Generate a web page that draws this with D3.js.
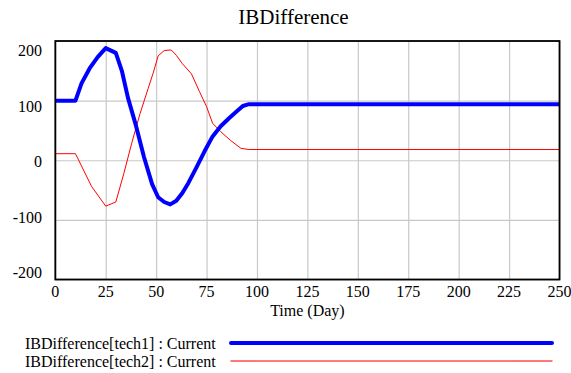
<!DOCTYPE html>
<html>
<head>
<meta charset="utf-8">
<script src="https://cdn.jsdelivr.net/npm/d3@7"></script>
<style>
  body { margin: 0; background: #fff; }
</style>
</head>
<body>
<svg id="chart" width="571" height="373"></svg>
<script>
// data
const tech1Times  = [0, 10, 13, 17, 21, 25, 30, 33, 36, 40, 44, 48, 51, 54, 57, 60, 63, 66, 70, 74, 78, 82, 86, 90, 93, 96, 250];
const tech1Values = [100, 100, 129, 154, 173, 188, 180, 150, 105, 58, 5, -40, -62, -70, -74, -68, -55, -38, -12, 15, 40, 57, 70, 82, 91, 94, 94];

const tech2Times  = [0, 10, 18, 25, 30, 34, 38, 42, 46, 48.5, 51, 54, 57.5, 60, 63, 67.5, 71.5, 75, 78, 82, 87, 92, 96, 250];
const tech2Values = [11, 11, -44, -77, -70, -22, 30, 78, 120, 146, 175, 184, 185, 176, 162, 145, 115, 90, 62, 48, 33, 20, 18, 18];

const xTicks = [0, 25, 50, 75, 100, 125, 150, 175, 200, 225, 250];
const yTicks = [-200, -100, 0, 100, 200];

const seriesNames = ["IBDifference[tech1] : Current", "IBDifference[tech2] : Current"];

const serif = "'Liberation Serif', 'Times New Roman', serif";

let svg = d3.select("#chart");

let plot = { left: 55.3, right: 559.5, top: 41, bottom: 279.5 };

let xScale = d3.scaleLinear().domain([0, 250]).range([plot.left, plot.right]);
let yScale = d3.scaleLinear().domain([-200, 200]).range([plot.bottom, plot.top]);
// the value labels sit a little inside the frame
let yLabelScale = d3.scaleLinear().domain([-200, 200]).range([273, 51]);

// grid
let xGrid = d3.axisBottom(xScale).tickValues(xTicks).tickSize(-(plot.bottom - plot.top)).tickFormat("");
svg.append("g")
    .attr("transform", `translate(0, ${plot.bottom})`)
    .call(xGrid)
    .call(g => g.select(".domain").remove())
    .call(g => g.selectAll("line").attr("stroke", "#c8c8c8").attr("stroke-width", 1.2));

let yGrid = d3.axisLeft(yScale).tickValues(yTicks).tickSize(-(plot.right - plot.left)).tickFormat("");
svg.append("g")
    .attr("transform", `translate(${plot.left}, 0)`)
    .call(yGrid)
    .call(g => g.select(".domain").remove())
    .call(g => g.selectAll("line").attr("stroke", "#c8c8c8").attr("stroke-width", 1.2));

// lines
let line = d3.line()
    .x(d => xScale(d[0]))
    .y(d => yScale(d[1]));

let tech1 = tech1Times.map((t, i) => [t, tech1Values[i]]);
let tech2 = tech2Times.map((t, i) => [t, tech2Values[i]]);

svg.append("path")
    .datum(tech2)
    .attr("d", line)
    .attr("fill", "none")
    .attr("stroke", "#ff0000")
    .attr("stroke-width", 1);

svg.append("path")
    .datum(tech1)
    .attr("d", line)
    .attr("fill", "none")
    .attr("stroke", "#0000ff")
    .attr("stroke-width", 4)
    .attr("stroke-linejoin", "round");

// frame
svg.append("rect")
    .attr("x", plot.left)
    .attr("y", plot.top)
    .attr("width", plot.right - plot.left)
    .attr("height", plot.bottom - plot.top)
    .attr("fill", "none")
    .attr("stroke", "#000")
    .attr("stroke-width", 1.8);

// tick labels
svg.append("g").selectAll("text")
    .data(xTicks)
    .join("text")
    .attr("x", d => xScale(d))
    .attr("y", 297)
    .style("font-family", serif)
    .style("text-anchor", "middle")
    .style("font-size", "16px")
    .text(d => d);

svg.append("g").selectAll("text")
    .data(yTicks)
    .join("text")
    .attr("x", 42)
    .attr("y", d => yLabelScale(d))
    .attr("dy", "0.33em")
    .style("font-family", serif)
    .style("text-anchor", "end")
    .style("font-size", "16px")
    .text(d => d);

// titles
svg.append("text")
    .attr("x", 293.5)
    .attr("y", 24)
    .style("font-family", serif)
    .style("text-anchor", "middle")
    .style("font-size", "21px")
    .text("IBDifference");

svg.append("text")
    .attr("x", (plot.left + plot.right) / 2)
    .attr("y", 316)
    .style("font-family", serif)
    .style("text-anchor", "middle")
    .style("font-size", "16px")
    .text("Time (Day)");

// legend
let legend = svg.append("g");
let legendColors = ["#0000ff", "#ff5050"];
let legendWidths = [4, 1.5];
let legendY = [343, 361];

seriesNames.forEach((name, i) => {
    legend.append("text")
        .attr("x", 25)
        .attr("y", legendY[i] + 5.5)
        .style("font-family", serif)
        .style("font-size", "16px")
        .text(name);
    legend.append("line")
        .attr("x1", 231)
        .attr("x2", 552)
        .attr("y1", legendY[i])
        .attr("y2", legendY[i])
        .attr("stroke", legendColors[i])
        .attr("stroke-width", legendWidths[i])
        .attr("stroke-linecap", "round");
});
</script>
</body>
</html>
